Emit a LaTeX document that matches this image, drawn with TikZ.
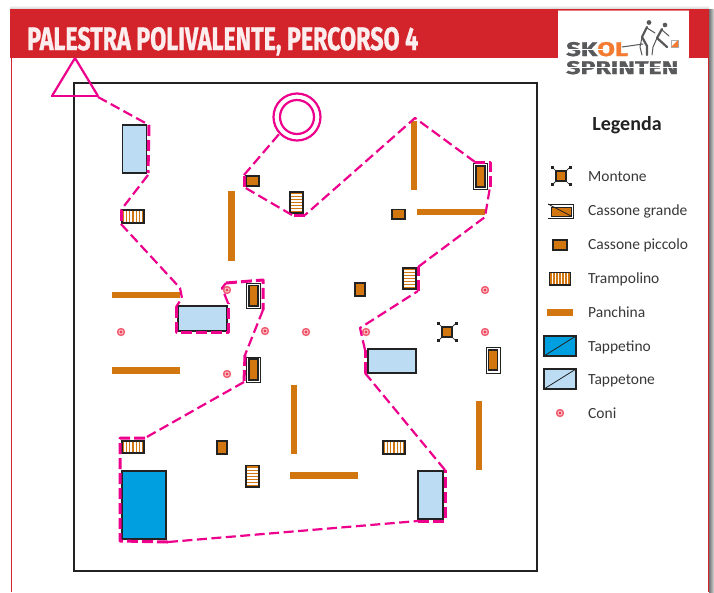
\documentclass[tikz,border=0pt]{standalone}
\usepackage{graphicx}
\usepackage{fontspec}
\setmainfont{Carlito}
\newfontfamily\titlefont[BoldFeatures={FakeBold=1.2}]{Fira Sans}
\definecolor{pinkroute}{HTML}{EC008C}
\definecolor{headred}{HTML}{D4242B}
\definecolor{woodo}{HTML}{D2760F}
\definecolor{matlight}{HTML}{BCDCF3}
\definecolor{matblue}{HTML}{009FDF}
\definecolor{conered}{HTML}{EE4058}
\definecolor{inkdark}{HTML}{222222}
\definecolor{logogray}{HTML}{58595B}
\definecolor{logoorange}{HTML}{F47A30}
\tikzset{
  bench/.style={fill=woodo,draw=none},
  box/.style={draw=inkdark,line width=1.1},
  wood/.style={fill=woodo,draw=inkdark,line width=1.1},
  matl/.style={fill=matlight,draw=inkdark,line width=1.1},
  matb/.style={fill=matblue,draw=inkdark,line width=1.1},
  routethin/.style={draw=pinkroute,line width=2.2,dash pattern=on 10pt off 4.5pt,line join=round},
  routethick/.style={draw=pinkroute,line width=3,dash pattern=on 11pt off 4pt,line join=round},
  marker/.style={draw=pinkroute,line width=2.2},
  legendtext/.style={anchor=base west,inner sep=0pt,text=inkdark!90,font=\fontsize{15.5}{15.5}\selectfont},
  figurelimb/.style={draw=logogray,line width=2.2,line cap=round,line join=round}
}
\newcommand\tramV[4]{%
  \foreach \i in {1,...,7}{\pgfmathsetmacro\xx{#1+(#3-#1)*(\i-.5)/7}\draw[woodo,line width=1.1] (\xx,#2)--(\xx,#4);}%
  \draw[box] (#1,#2) rectangle (#3,#4);}
\newcommand\tramH[4]{%
  \foreach \i in {1,...,7}{\pgfmathsetmacro\yy{#2+(#4-#2)*(\i-.5)/7}\draw[woodo,line width=1.1] (#1,\yy)--(#3,\yy);}%
  \draw[box] (#1,#2) rectangle (#3,#4);}
\newcommand\bigcrate[8]{%
  \draw[fill=white,draw=inkdark,line width=1] (#1,#2) rectangle (#3,#4);
  \draw[wood] (#5,#6) rectangle (#7,#8);}
\newcommand\conemark[2]{%
  \fill[conered!85] (#1,#2) circle[radius=4.2];
  \fill[white!70!conered] (#1,#2) circle[radius=2.5];
  \fill[conered] (#1,#2) circle[radius=1.7];}
\newcommand\montone[2]{%
  \draw[inkdark,line width=.7] (#1-8,#2-8) -- (#1+8,#2+8) (#1-8,#2+8) -- (#1+8,#2-8);
  \foreach \sx/\sy in {-1/-1,1/-1,-1/1,1/1}{\fill[inkdark] (#1+\sx*9-1.5,#2+\sy*8.5-1.5) rectangle +(3,3);}
  \draw[wood] (#1-5,#2-5) rectangle (#1+5,#2+5);}
\begin{document}
\begin{tikzpicture}[x=1pt,y=-1pt]
\useasboundingbox (0,0) rectangle (714,592);
% page and shadows
\fill[white] (0,0) rectangle (714,592);
\shade[top color=white,bottom color=black!18] (10,5) rectangle (709,9);
\shade[left color=black!55,right color=black!15] (709,9) rectangle (714,592);
\fill[white] (11,9) rectangle (708,592);
\fill[headred] (10.5,58) rectangle (11.7,592);
\fill[headred] (707.5,9) rectangle (709,592);
\fill[headred] (10,9) rectangle (708,58);
\fill[white] (558,10) rectangle (689,58);
\fill[headred!60] (558,9.5) rectangle (689,11);
\node[anchor=base west,inner sep=0pt,text=white!92!headred] (title) at (27,50)
  {\resizebox{391pt}{23pt}{\titlefont\bfseries PALESTRA POLIVALENTE, PERCORSO 4}};
% field
\draw[inkdark,line width=1.3] (74,83) rectangle (537,571);
% equipment
\draw[matl] (122.5,125) rectangle (146.5,173);
\tramV{122}{210}{144}{223}
\fill[bench] (228,191) rectangle (235,261);
\draw[wood] (246,176) rectangle (259,186);
\tramH{290}{192}{303}{213}
\fill[bench] (411,121) rectangle (417,190);
\bigcrate{473.5}{163.5}{487.5}{189}{476}{166}{485}{187}
\draw[wood] (392,209.5) rectangle (405,219);
\fill[bench] (417,209) rectangle (485,215);
\fill[bench] (112,292) rectangle (180,298);
\draw[matl] (178,306) rectangle (227,331);
\bigcrate{246.5}{283}{260.5}{308.5}{249}{285.5}{258}{306}
\bigcrate{246.5}{357}{260.5}{382}{249}{359}{258}{380}
\fill[bench] (112,367) rectangle (180,374);
\fill[bench] (291,385) rectangle (297,454);
\tramV{122}{441}{144}{453}
\draw[matb] (122,471) rectangle (166,539);
\draw[wood] (217,441) rectangle (227,454);
\tramH{246}{465.5}{259}{487}
\fill[bench] (290,472) rectangle (358,479);
\tramH{403}{268}{416}{289}
\draw[wood] (355,283) rectangle (365,296);
\draw[matl] (368,349) rectangle (416,373);
\montone{447}{332}
\bigcrate{486}{347.5}{500}{373}{488.5}{350}{497.5}{370}
\fill[bench] (476,401) rectangle (482,470);
\tramV{383}{441}{405}{454}
\draw[matl] (418,471) rectangle (443,519);
% cones
\conemark{227}{290}\conemark{121}{332}\conemark{265}{331}\conemark{306}{332}
\conemark{227}{374}\conemark{366}{332}\conemark{485}{290}\conemark{485}{332}
% start and finish
\draw[marker,line join=miter] (75,58) -- (98,96);
\draw[marker] (75,58) -- (52,96);
\draw[draw=pinkroute,line width=2.8] (51,96) -- (98,96);
\draw[marker] (297,117) circle[radius=23.5];
\draw[marker] (297,117) circle[radius=17];
% route
\draw[routethin] (98,97) -- (149,125);
\draw[routethick] (149,125) -- (148,173);
\draw[routethin] (148,175) -- (121,210);
\draw[routethick] (121,210) -- (121,224);
\draw[routethin] (121,224) -- (180,288) -- (182,298) -- (176,307);
\draw[routethick] (176,307) -- (176,332) -- (228,332) -- (228,303);
\draw[routethin] (228,303) -- (222,288) -- (226,283);
\draw[routethick] (226,283) -- (263,280) -- (263,310);
\draw[routethin] (263,310) -- (245,355);
\draw[routethick] (245,355) -- (244,382);
\draw[routethin] (244,382) -- (145,438);
\draw[routethick] (145,438) -- (120,438) -- (120,541) -- (168,542);
\draw[routethin] (168,542) -- (418,521);
\draw[routethick] (418,521) -- (445,521) -- (445,470);
\draw[routethin] (445,470) -- (365,373);
\draw[routethick] (365,373) -- (365,350);
\draw[routethin] (365,350) -- (360,328) -- (418,291);
\draw[routethick] (418,291) -- (418,267);
\draw[routethin] (418,267) -- (485,217) -- (490,187);
\draw[routethick] (490,187) -- (490,162) -- (475,162);
\draw[routethin] (475,162) -- (415,118) -- (305,215);
\draw[routethick] (305,215) -- (292,215);
\draw[routethin] (292,215) -- (244,187);
\draw[routethick] (244,187) -- (244,175);
\draw[routethin] (244,175) -- (280,133);
% logo
\node[anchor=base west,inner sep=0pt] (logotop) at (566,56)
  {\resizebox{62pt}{14pt}{\titlefont\bfseries\textcolor{logogray}{SK}\textcolor{logoorange}{OL}}};
\node[anchor=base west,inner sep=0pt] (logobottom) at (566,74)
  {\resizebox{112pt}{13pt}{\titlefont\bfseries\textcolor{logogray}{SPRINTEN}}};
\draw[white,line width=1] (566,49) -- (604,49) (566,67.5) -- (678,67.5);
\fill[logogray] (649,22.5) circle[radius=2.4] (665,25) circle[radius=2.3];
\draw[figurelimb] (647,27) -- (642,37) -- (647,46) -- (647,55);
\draw[figurelimb,line width=1] (642,37) -- (640,47) -- (642,55) (643,44) -- (622,47) (647,28) -- (655,33);
\draw[figurelimb] (662,29) -- (657,38) -- (667,47);
\draw[figurelimb,line width=1] (657,38) -- (653,47) -- (652,55) (662,30) -- (669,36);
\fill[white,draw=logogray!50,line width=.4] (671,40) rectangle (678,47);
\fill[logoorange] (671,47) -- (678,40) -- (678,47) -- cycle;
% legend
\node[anchor=center,inner sep=0pt,text=inkdark,font=\fontsize{20}{20}\selectfont\bfseries] (legendtitle) at (627,125) {Legenda};
\montone{561}{176}
\draw[fill=white,draw=inkdark,line width=.9] (548,204) -- (573,204) -- (573,218) -- (548,218);
\draw[wood,line width=.7] (551,207) rectangle (571,216);
\draw[inkdark,line width=.8] (548,204) -- (571,216);
\draw[wood] (553,240) rectangle (567,250);
\tramV{549.5}{272.5}{570.5}{285}
\fill[bench] (547,309) rectangle (573,316);
\draw[matb] (544,336) rectangle (576,356);
\draw[inkdark,line width=.8] (544,356) -- (576,336);
\draw[matl] (544,369) rectangle (576,389);
\draw[inkdark,line width=.8] (544,389) -- (576,369);
\conemark{560}{413}
\node[legendtext] (l1) at (588,181) {Montone};
\node[legendtext] (l2) at (588,215) {Cassone grande};
\node[legendtext] (l3) at (588,249) {Cassone piccolo};
\node[legendtext] (l4) at (588,283) {Trampolino};
\node[legendtext] (l5) at (588,317) {Panchina};
\node[legendtext] (l6) at (588,351) {Tappetino};
\node[legendtext] (l7) at (588,384) {Tappetone};
\node[legendtext] (l8) at (588,418) {Coni};
\end{tikzpicture}
\end{document}
